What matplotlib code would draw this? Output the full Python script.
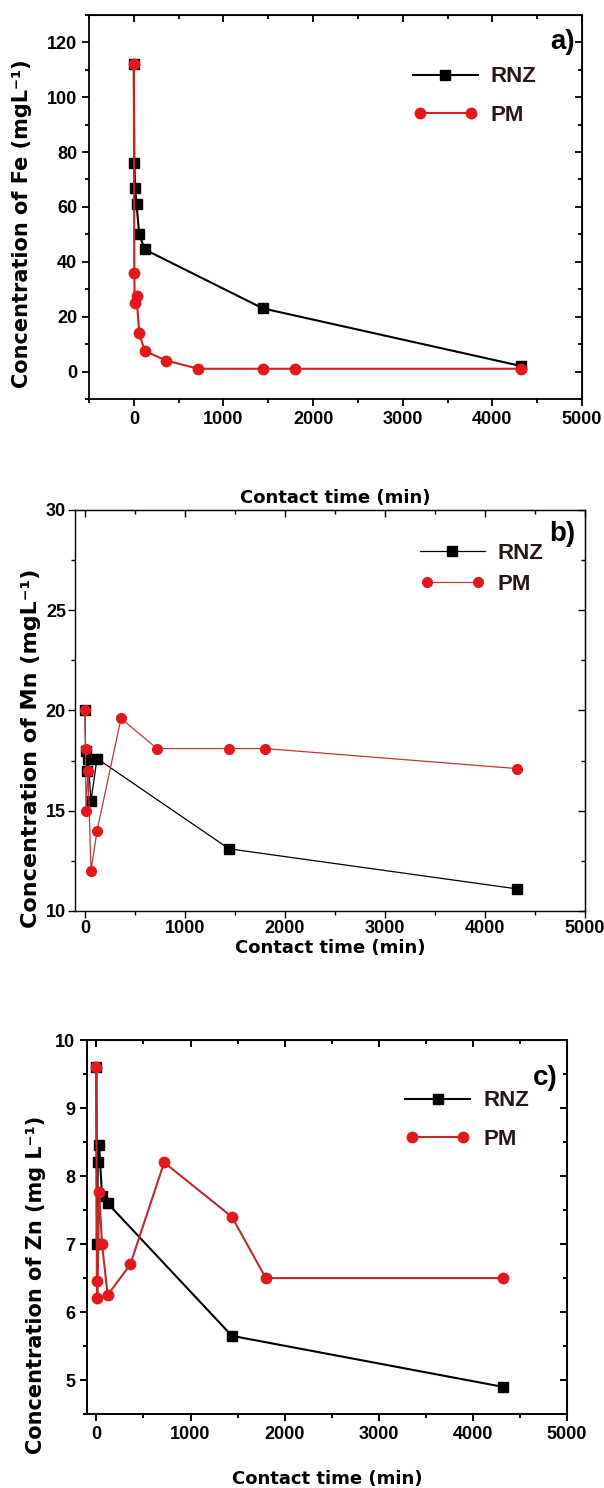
#!/usr/bin/env python3
import matplotlib
matplotlib.use("Agg")
import matplotlib.pyplot as plt
from matplotlib.legend_handler import HandlerLine2D
from matplotlib.ticker import MultipleLocator

# ---- data ----
fe_rnz_t = [0, 5, 15, 30, 60, 120, 1440, 4320]
fe_rnz_c = [112, 76, 67, 61, 50, 44.5, 23, 2]
fe_pm_t = [0, 5, 10, 30, 60, 120, 360, 720, 1440, 1800, 4320]
fe_pm_c = [112, 36, 25, 27.5, 14, 7.5, 4, 1, 1, 1, 1]

mn_rnz_t = [0, 5, 15, 30, 60, 120, 1440, 4320]
mn_rnz_c = [20, 18, 17, 17.6, 15.5, 17.6, 13.1, 11.1]
mn_pm_t = [0, 5, 10, 30, 60, 120, 360, 720, 1440, 1800, 4320]
mn_pm_c = [20, 18.1, 15, 17, 12, 14, 19.6, 18.1, 18.1, 18.1, 17.1]

zn_rnz_t = [0, 5, 15, 30, 60, 120, 1440, 4320]
zn_rnz_c = [9.6, 7.0, 8.2, 8.45, 7.7, 7.6, 5.65, 4.9]
zn_pm_t = [0, 5, 10, 30, 60, 120, 360, 720, 1440, 1800, 4320]
zn_pm_c = [9.6, 6.45, 6.2, 7.76, 7.0, 6.25, 6.7, 8.2, 7.4, 6.5, 6.5]

RED = "#e3181c"
TXT = "#2a1616"
TICK_FONT = ["Liberation Sans Narrow", "Liberation Sans"]
LABEL_FONT = ["DejaVu Sans"]


def style_axes(ax, lw, pad=3.5):
    for s in ax.spines.values():
        s.set_linewidth(lw)
    ax.tick_params(which="both", direction="out", width=lw, top=False, right=False)
    ax.tick_params(which="major", length=5, pad=pad)
    ax.tick_params(which="minor", length=3)
    for lab in ax.get_xticklabels() + ax.get_yticklabels():
        lab.set_fontfamily(TICK_FONT)
        lab.set_fontweight("bold")
        lab.set_fontsize(13)
    # mirrored ticks on top/right pointing inwards
    top = ax.secondary_xaxis("top")
    top.set_xticks(ax.get_xticks(), labels=[])
    top.tick_params(direction="in", length=5, width=lw)
    top.xaxis.set_minor_locator(ax.xaxis.get_minor_locator())
    top.tick_params(which="minor", direction="in", length=3, width=lw)
    right = ax.secondary_yaxis("right")
    right.set_yticks(ax.get_yticks(), labels=[])
    right.tick_params(direction="in", length=5, width=lw)
    right.yaxis.set_minor_locator(ax.yaxis.get_minor_locator())
    right.tick_params(which="minor", direction="in", length=3, width=lw)


def panel(ax, rt, rc, pt, pc, lw, ms, pm_line, ylabel, tag, leg_xy, tag_xy, spacing,
          ysize=15):
    l1, = ax.plot(rt, rc, color="black", lw=lw, marker="s", ms=ms,
                  mfc="black", mec="black", label="RNZ", zorder=2)
    l2, = ax.plot(pt, pc, color=pm_line, lw=lw, marker="o", ms=ms + 0.5,
                  mfc=RED, mec=RED, label="PM", zorder=3)
    ax.set_xlabel("Contact time (min)", fontsize=13, fontweight="bold",
                  family=LABEL_FONT)
    ax.set_ylabel(ylabel, fontsize=ysize, fontweight="bold", family=LABEL_FONT)
    leg = ax.legend(handles=[l1, l2], loc="upper left", bbox_to_anchor=leg_xy,
                    frameon=False, handlelength=2.9, handletextpad=0.6,
                    labelspacing=spacing, borderpad=0,
                    prop={"family": "Liberation Sans", "weight": "bold", "size": 16},
                    handler_map={l1: HandlerLine2D(numpoints=1),
                                 l2: HandlerLine2D(numpoints=2)})
    for t in leg.get_texts():
        t.set_color(TXT)
    ax.text(tag_xy[0], tag_xy[1], tag, transform=ax.transAxes, fontsize=20,
            fontweight="bold", family="Liberation Sans", ha="center", va="center")


def main():
    fig = plt.figure(figsize=(6.04, 14.88), dpi=100)

    # a) Fe
    ax = fig.add_axes([0.1474, 0.7319, 0.8162, 0.2581])
    ax.set_xlim(-500, 5000)
    ax.set_ylim(-10, 130)
    ax.xaxis.set_major_locator(MultipleLocator(1000))
    ax.xaxis.set_minor_locator(MultipleLocator(500))
    ax.yaxis.set_major_locator(MultipleLocator(20))
    ax.yaxis.set_minor_locator(MultipleLocator(10))
    panel(ax, fe_rnz_t, fe_rnz_c, fe_pm_t, fe_pm_c, 1.5, 7, "#cc1f1f",
          "Concentration of Fe (mgL\u207b\u00b9)", "a)", (0.635, 0.895), (0.96, 0.93), 0.8)
    style_axes(ax, 1.3)
    ax.yaxis.set_label_coords(-0.115, 0.456)
    ax.xaxis.set_label_coords(0.5, -0.235)

    # b) Mn
    ax = fig.add_axes([0.1242, 0.3878, 0.8444, 0.2695])
    ax.set_xlim(-100, 5000)
    ax.set_ylim(10, 30)
    ax.xaxis.set_major_locator(MultipleLocator(1000))
    ax.xaxis.set_minor_locator(MultipleLocator(500))
    ax.yaxis.set_major_locator(MultipleLocator(5))
    ax.yaxis.set_minor_locator(MultipleLocator(2.5))
    panel(ax, mn_rnz_t, mn_rnz_c, mn_pm_t, mn_pm_c, 0.9, 6.5, "#b83a3a",
          "Concentration of Mn (mgL\u207b\u00b9)", "b)", (0.655, 0.945), (0.955, 0.94), 0.45,
          ysize=16)
    style_axes(ax, 1.0, pad=1.5)
    ax.yaxis.set_label_coords(-0.067, 0.406)
    ax.xaxis.set_label_coords(0.5, -0.07)

    # c) Zn
    ax = fig.add_axes([0.1440, 0.0497, 0.7947, 0.2513])
    ax.set_xlim(-100, 5000)
    ax.set_ylim(4.5, 10)
    ax.xaxis.set_major_locator(MultipleLocator(1000))
    ax.xaxis.set_minor_locator(MultipleLocator(500))
    ax.yaxis.set_major_locator(MultipleLocator(1))
    ax.yaxis.set_minor_locator(MultipleLocator(0.5))
    panel(ax, zn_rnz_t, zn_rnz_c, zn_pm_t, zn_pm_c, 1.5, 7, "#bf2a2a",
          "Concentration of Zn (mg L\u207b\u00b9)", "c)", (0.64, 0.895), (0.955, 0.9), 0.8)
    style_axes(ax, 1.4)
    ax.yaxis.set_label_coords(-0.085, 0.345)
    ax.xaxis.set_label_coords(0.5, -0.15)

    fig.savefig("out.png", dpi=100)
    plt.close(fig)


if __name__ == "__main__":
    main()
